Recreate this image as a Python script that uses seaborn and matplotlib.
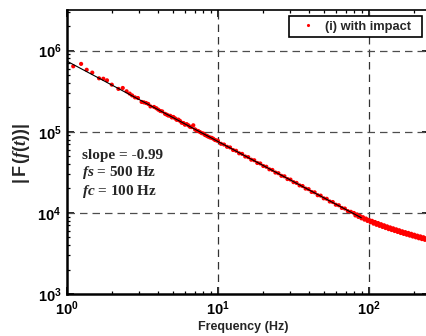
import numpy as np
import pandas as pd
import matplotlib
matplotlib.use("Agg")
import matplotlib.pyplot as plt
import seaborn as sns
from matplotlib.ticker import LogLocator, FixedLocator
from matplotlib.font_manager import FontProperties
from matplotlib.patches import Rectangle

# ---------------- data ----------------
freq_hz = [
    1.10, 1.24, 1.35, 1.47, 1.63, 1.74, 1.84, 1.98, 2.19, 2.34, 2.48, 2.60, 2.70, 2.82,
    2.95, 3.12, 3.23, 3.34, 3.45, 3.57, 3.77, 3.90, 4.02, 4.15, 4.27, 4.46, 4.58, 4.69,
    4.83, 4.95, 5.06, 5.20, 5.33, 5.46, 5.60, 5.75, 5.90, 6.04, 6.20, 6.36, 6.52, 6.68,
    6.86, 7.04, 7.22, 7.40, 7.60, 7.80, 8.00, 8.20, 8.42, 8.60, 8.85, 9.08, 9.30, 9.55,
    9.80,
    10.0, 10.47, 10.96, 11.48, 12.02, 12.59, 13.18, 13.80, 14.45, 15.14, 15.85, 16.60,
    17.38, 18.20, 19.05, 19.95, 20.89, 21.88, 22.91, 23.99, 25.12, 26.30, 27.54, 28.84,
    30.20, 31.62, 33.11, 34.67, 36.31, 38.02, 39.81, 41.69, 43.65, 45.71, 47.86, 50.12,
    52.48, 54.95, 57.54, 60.26, 63.10, 66.07, 69.18, 72.44, 75.86,
    79.43, 81.28, 83.18, 85.11, 87.10, 89.13, 91.20, 93.33, 95.50, 97.72, 100.0, 102.3,
    104.7, 107.2, 109.6, 112.2, 114.8, 117.5, 120.2, 123.0, 125.9, 128.8, 131.8, 134.9,
    138.0, 141.3, 144.5, 147.9, 151.4, 154.9, 158.5, 162.2, 166.0, 169.8, 173.8, 177.8,
    182.0, 186.2, 190.5, 195.0, 199.5, 204.2, 208.9, 213.8, 218.8, 223.9, 229.1, 234.4,
    239.9, 245.5, 251.2,
]
magnitude = [
    6.4e5, 6.85e5, 5.8e5, 5.35e5, 4.55e5, 4.5e5, 4.3e5, 3.8e5, 3.37e5, 3.46e5, 3.15e5,
    2.95e5, 2.80e5, 2.65e5, 2.60e5, 2.33e5, 2.30e5, 2.26e5, 2.20e5, 2.05e5, 2.02e5,
    1.95e5, 1.87e5, 1.80e5, 1.78e5, 1.66e5, 1.62e5, 1.58e5, 1.57e5, 1.50e5, 1.52e5,
    1.46e5, 1.40e5, 1.41e5, 1.36e5, 1.29e5, 1.28e5, 1.22e5, 1.24e5, 1.20e5, 1.15e5,
    1.14e5, 1.20e5, 1.07e5, 1.03e5, 1.02e5, 9.9e4, 9.6e4, 9.5e4, 9.1e4, 8.9e4, 8.7e4,
    8.5e4, 8.4e4, 8.2e4, 7.9e4, 7.8e4,
    7.70e4, 7.10e4, 6.95e4, 6.52e4, 6.40e4, 5.95e4, 5.82e4, 5.42e4, 5.33e4, 4.95e4,
    4.86e4, 4.52e4, 4.45e4, 4.12e4, 4.06e4, 3.78e4, 3.70e4, 3.44e4, 3.38e4, 3.14e4,
    3.08e4, 2.86e4, 2.82e4, 2.61e4, 2.57e4, 2.39e4, 2.34e4, 2.18e4, 2.14e4, 1.99e4,
    1.96e4, 1.81e4, 1.79e4, 1.65e4, 1.63e4, 1.51e4, 1.49e4, 1.38e4, 1.36e4, 1.26e4,
    1.24e4, 1.15e4, 1.13e4, 1.05e4, 1.03e4,
    9.97e3, 9.29e3, 9.56e3, 8.91e3, 9.17e3, 8.56e3, 8.85e3, 8.25e3, 8.51e3, 7.95e3,
    8.20e3, 7.66e3, 7.98e3, 7.36e3, 7.72e3, 7.12e3, 7.49e3, 6.91e3, 7.25e3, 6.70e3,
    7.03e3, 6.50e3, 6.82e3, 6.30e3, 6.62e3, 6.14e3, 6.45e3, 5.97e3, 6.27e3, 5.81e3,
    6.11e3, 5.64e3, 5.93e3, 5.50e3, 5.79e3, 5.37e3, 5.66e3, 5.24e3, 5.52e3, 5.11e3,
    5.38e3, 4.99e3, 5.24e3, 4.86e3, 5.13e3, 4.75e3, 5.01e3, 4.65e3, 4.89e3, 4.54e3,
    4.78e3,
]
series_label = "(i) with impact"

fit_freq_hz = [1.0, 89.0]
fit_magnitude = [7.4e5, 8.7e3]

annotations = ["slope = -0.99", r"$\mathit{fs}$ = 500 Hz", r"$\mathit{fc}$ = 100 Hz"]
x_label = "Frequency (Hz)"
y_label = r"$\mathbf{|\,F\,}\mathit{(f(t))}\mathbf{|}$"
x_major = [1, 10, 100]
x_tick_labels = [r"$\mathbf{10^{0}}$", r"$\mathbf{10^{1}}$", r"$\mathbf{10^{2}}$"]
y_major = [1e3, 1e4, 1e5, 1e6]
y_tick_labels = [r"$\mathbf{10^{3}}$", r"$\mathbf{10^{4}}$", r"$\mathbf{10^{5}}$", r"$\mathbf{10^{6}}$"]

data = pd.DataFrame({"f": freq_hz, "mag": magnitude, "series": series_label})
fit = pd.DataFrame({"f": fit_freq_hz, "mag": fit_magnitude})

# ---------------- style ----------------
sns.set_style("ticks")
plt.rcParams["font.family"] = ["Liberation Sans", "DejaVu Sans"]
plt.rcParams["mathtext.fontset"] = "custom"
plt.rcParams["mathtext.bf"] = "Liberation Sans:bold"
plt.rcParams["mathtext.rm"] = "Liberation Sans:bold"
plt.rcParams["mathtext.it"] = "Liberation Serif:italic:bold"

W, H = 426, 336
fig = plt.figure(figsize=(W / 100, H / 100), dpi=100)
ax_left, ax_right, ax_top, ax_bottom = 67, 429.4, 10, 294
ax = fig.add_axes([ax_left / W, 1 - ax_bottom / H,
                   (ax_right - ax_left) / W, (ax_bottom - ax_top) / H])

sns.scatterplot(data=data, x="f", y="mag", hue="series", palette=["#ff0000"],
                marker="o", s=9, linewidth=0, ax=ax, zorder=3)
sns.lineplot(data=fit, x="f", y="mag", color="black", linewidth=0.8, ax=ax,
             zorder=4, legend=False)

ax.set_xscale("log")
ax.set_yscale("log")
ax.set_xlim(1, 10 ** 2.4)
ax.set_ylim(1e3, 10 ** 6.5)

ax.xaxis.set_major_locator(FixedLocator(x_major))
ax.yaxis.set_major_locator(FixedLocator(y_major))
ax.set_xticklabels(x_tick_labels, fontsize=10.5)
ax.set_yticklabels(y_tick_labels, fontsize=10.5)
ax.xaxis.set_minor_locator(LogLocator(base=10, subs=np.arange(2, 10)))
ax.yaxis.set_minor_locator(LogLocator(base=10, subs=np.arange(2, 10)))
ax.tick_params(which="both", direction="in", top=True, right=True, colors="black")
ax.tick_params(which="major", length=5, width=1.2, pad=4)
ax.tick_params(which="minor", length=2.5, width=0.9)

for s in ["left", "bottom"]:
    ax.spines[s].set_linewidth(1.8)
for s in ["top", "right"]:
    ax.spines[s].set_linewidth(1.2)
for s in ax.spines.values():
    s.set_color("black")

for xv in [10, 100]:
    ax.axvline(xv, color="0.2", linewidth=0.9, linestyle=(0, (6, 4)), zorder=1)
for yv in [1e4, 1e5, 1e6]:
    ax.axhline(yv, color="0.3", linewidth=0.9, linestyle=(0, (6, 4)), zorder=1)

ax.set_xlabel("")
ax.set_ylabel("")
fig.text(243.5 / W, 1 - 327 / H, x_label, ha="center", va="center",
         fontsize=9, fontweight="bold")
fig.text(22 / W, 1 - 153 / H, y_label, ha="center", va="center",
         rotation=90, fontsize=13)

serif_bold = FontProperties(family="Liberation Serif", weight="bold", size=11)
ys = [155, 173, 191.5]
for txt, yy in zip(annotations, ys):
    fig.text(82 / W, 1 - yy / H, txt, ha="left", va="center",
             fontproperties=serif_bold)

# legend: frameless legend plus a separate box frame
handles, labels = ax.get_legend_handles_labels()
leg_fs = 9.3
leg = ax.legend(handles, [series_label], loc="center left",
                bbox_to_anchor=(301.5 / W, 1 - 26.5 / H), bbox_transform=fig.transFigure,
                borderaxespad=0, borderpad=0, frameon=False,
                prop={"weight": "bold", "size": leg_fs},
                handlelength=1.0, handletextpad=0.8, markerscale=0.75)
leg.set_zorder(6)
frame = Rectangle((289 / W, 1 - 37 / H), (422 - 289) / W, (37 - 16) / H,
                  transform=fig.transFigure, facecolor="white", edgecolor="black",
                  linewidth=1.2, zorder=5.5, clip_on=False)
ax.add_artist(frame)

fig.savefig("out.png", dpi=100)
